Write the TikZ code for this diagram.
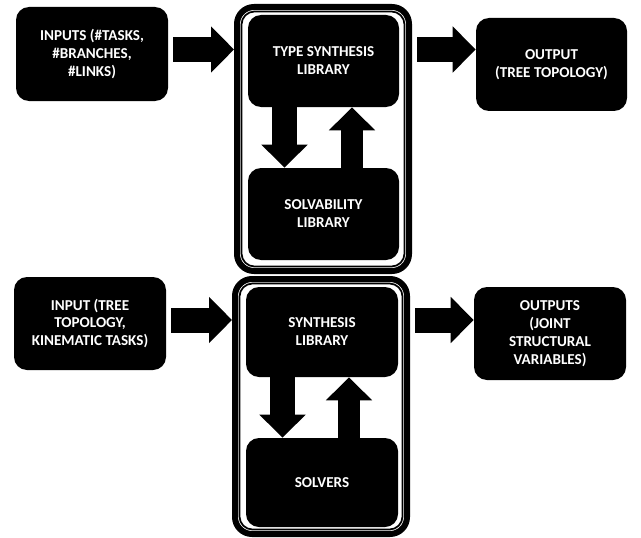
\documentclass[tikz,border=0pt]{standalone}
\usepackage{fontspec}
\setmainfont{Carlito}
\usepackage{tikz}
\usetikzlibrary{arrows.meta}

\begin{document}
\begin{tikzpicture}[
  blk/.style = {fill = black, text = white, rounded corners = 0.26cm, align = center,
    inner sep = 0pt, font = \bfseries\fontsize{8.6}{10.2}\selectfont},
  frame/.style = {draw, line width = 0.12cm, rounded corners = 0.34cm},
  framein/.style = {draw, line width = 0.035cm, rounded corners = 0.26cm},
  barrow/.style = {line width = 0.5cm, -{Triangle[length = 0.46cm, width = 0.9cm]}}]
\useasboundingbox (0, 0) rectangle (12.82, -10.74);
% first stage
\node (cont1) at (6.46, -2.78) [frame, minimum width = 3.44cm, minimum height = 5.28cm] {};
\node (cont1i) at (cont1) [framein, minimum width = 3.26cm, minimum height = 5.10cm] {};
\node (in1) at (1.84, -1.08) [blk, minimum width = 3.04cm, minimum height = 1.88cm]
  {INPUTS (\#TASKS,\\\#BRANCHES,\\\#LINKS)};
\node (syn1) at (6.47, -1.22) [blk, minimum width = 3.02cm, minimum height = 1.84cm]
  {TYPE SYNTHESIS\\LIBRARY};
\node (sol1) at (6.47, -4.28) [blk, minimum width = 3.02cm, minimum height = 1.84cm]
  {SOLVABILITY\\LIBRARY};
\node (out1) at (11.03, -1.29) [blk, minimum width = 3.02cm, minimum height = 1.86cm]
  {OUTPUT\\(TREE TOPOLOGY)};
\draw [barrow, shorten <= 0.1cm] ([yshift = 0.09cm]in1.east) coordinate (r1) -- (r1 -| cont1.west);
\draw [barrow, shorten <= 0.1cm] (cont1.east |- r1) -- (out1.west |- r1);
\draw [barrow] ([xshift = -0.78cm]syn1.south) -- ([xshift = -0.78cm]sol1.north);
\draw [barrow, line width = 0.45cm] ([xshift = 0.57cm]sol1.north) -- ([xshift = 0.57cm]syn1.south);
% second stage
\node (cont2) at (6.42, -8.13) [frame, minimum width = 3.44cm, minimum height = 5.10cm] {};
\node (cont2i) at (cont2) [framein, minimum width = 3.26cm, minimum height = 4.92cm] {};
\node (in2) at (1.80, -6.47) [blk, minimum width = 3.04cm, minimum height = 1.86cm]
  {INPUT (TREE\\TOPOLOGY,\\KINEMATIC TASKS)};
\node (syn2) at (6.44, -6.64) [blk, minimum width = 3.04cm, minimum height = 1.80cm]
  {SYNTHESIS\\LIBRARY};
\node (sol2) at (6.44, -9.65) [blk, minimum width = 3.04cm, minimum height = 1.78cm]
  {SOLVERS};
\node (out2) at (11.00, -6.67) [blk, minimum width = 3.04cm, minimum height = 1.86cm]
  {OUTPUTS\\(JOINT\\STRUCTURAL\\VARIABLES)};
\draw [barrow, shorten <= 0.1cm] ([yshift = 0.07cm]in2.east) coordinate (r2) -- (r2 -| cont2.west);
\draw [barrow, shorten <= 0.1cm] (cont2.east |- r2) -- (out2.west |- r2);
\draw [barrow] ([xshift = -0.79cm]syn2.south) -- ([xshift = -0.79cm]sol2.north);
\draw [barrow, line width = 0.45cm] ([xshift = 0.54cm]sol2.north) -- ([xshift = 0.54cm]syn2.south);
\end{tikzpicture}
\end{document}
